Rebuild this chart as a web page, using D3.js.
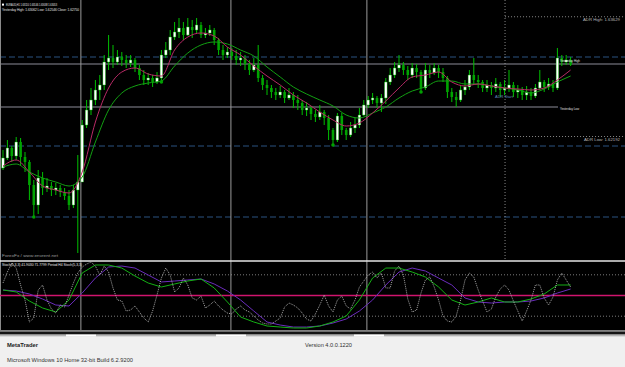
<!DOCTYPE html>
<html>
<head>
<meta charset="utf-8">
<script src="https://cdn.jsdelivr.net/npm/d3@7"></script>
<style>
  body { margin: 0; background: #f0f0f0; }
  svg { display: block; font-family: "Liberation Sans", Arial, sans-serif; }
</style>
</head>
<body>
<div id="chart"></div>
<script>
// EURAUD H1 candles (open of each bar = previous close)
const symbol = "EURAUD,H1";
const firstOpen = 1.61814;
const highs = [
  1.62030, 1.62150, 1.62078, 1.62186, 1.62174, 1.62006, 1.61910, 1.61670, 1.61790, 1.61766,
  1.61694, 1.61646, 1.61634, 1.61610, 1.61574, 1.61550, 1.61610, 1.61970, 1.62390, 1.62630,
  1.62774, 1.62870, 1.62930, 1.63170, 1.63410, 1.63290, 1.63230, 1.63206, 1.63170, 1.63170,
  1.63134, 1.63050, 1.62990, 1.62954, 1.62930, 1.62966, 1.63230, 1.63326, 1.63470, 1.63566,
  1.63614, 1.63566, 1.63614, 1.63590, 1.63614, 1.63566, 1.63494, 1.63530, 1.63494, 1.63374,
  1.63290, 1.63266, 1.63254, 1.63230, 1.63206, 1.63170, 1.63110, 1.63134, 1.63290, 1.62930,
  1.62870, 1.62810, 1.62774, 1.62798, 1.62750, 1.62774, 1.62726, 1.62690, 1.62630, 1.62606,
  1.62558, 1.62510, 1.62570, 1.62510, 1.62450, 1.62294, 1.62474, 1.62474, 1.62294, 1.62366,
  1.62414, 1.62534, 1.62630, 1.62678, 1.62714, 1.62678, 1.62702, 1.62894, 1.63014, 1.63086,
  1.63170, 1.63086, 1.63038, 1.63074, 1.63062, 1.62990, 1.63074, 1.63050, 1.63074, 1.63050,
  1.63014, 1.62918, 1.62774, 1.62726, 1.62810, 1.62870, 1.62990, 1.63134, 1.62930, 1.62870,
  1.62870, 1.62846, 1.62894, 1.62846, 1.62870, 1.62990, 1.62846, 1.62810, 1.62786, 1.62798,
  1.62774, 1.62822, 1.62990, 1.62870, 1.62894, 1.62870, 1.63254, 1.63170, 1.63170, 1.63146
];
const lows = [
  1.61790, 1.61910, 1.61886, 1.61910, 1.61850, 1.61766, 1.61430, 1.61226, 1.61262, 1.61490,
  1.61526, 1.61478, 1.61490, 1.61466, 1.61430, 1.61310, 1.61334, 1.60794, 1.61646, 1.62294,
  1.62450, 1.62570, 1.62630, 1.62750, 1.62990, 1.63014, 1.63050, 1.63038, 1.63014, 1.63026,
  1.62966, 1.62870, 1.62810, 1.62810, 1.62786, 1.62822, 1.62846, 1.63134, 1.63170, 1.63350,
  1.63374, 1.63350, 1.63398, 1.63374, 1.63434, 1.63374, 1.63374, 1.63398, 1.63290, 1.63170,
  1.63110, 1.63134, 1.63110, 1.63050, 1.63038, 1.62990, 1.62930, 1.62966, 1.62846, 1.62750,
  1.62690, 1.62654, 1.62630, 1.62654, 1.62594, 1.62630, 1.62534, 1.62510, 1.62450, 1.62438,
  1.62390, 1.62366, 1.62390, 1.62330, 1.62150, 1.62090, 1.62126, 1.62210, 1.62150, 1.62186,
  1.62234, 1.62294, 1.62438, 1.62534, 1.62582, 1.62534, 1.62486, 1.62582, 1.62810, 1.62894,
  1.62966, 1.62930, 1.62870, 1.62894, 1.62894, 1.62726, 1.62750, 1.62894, 1.62930, 1.62894,
  1.62846, 1.62654, 1.62606, 1.62546, 1.62606, 1.62690, 1.62750, 1.62810, 1.62774, 1.62726,
  1.62726, 1.62690, 1.62726, 1.62666, 1.62690, 1.62726, 1.62666, 1.62654, 1.62630, 1.62630,
  1.62630, 1.62654, 1.62750, 1.62726, 1.62750, 1.62726, 1.62750, 1.63038, 1.63050, 1.63038
];
const closes = [
  1.61934, 1.62054, 1.61958, 1.62126, 1.61946, 1.61886, 1.61610, 1.61370, 1.61694, 1.61574,
  1.61598, 1.61550, 1.61574, 1.61526, 1.61478, 1.61370, 1.61550, 1.61646, 1.62330, 1.62510,
  1.62630, 1.62750, 1.62810, 1.63086, 1.63134, 1.63086, 1.63146, 1.63110, 1.63074, 1.63110,
  1.63014, 1.62930, 1.62870, 1.62894, 1.62846, 1.62894, 1.63170, 1.63230, 1.63386, 1.63446,
  1.63494, 1.63410, 1.63506, 1.63470, 1.63530, 1.63410, 1.63434, 1.63470, 1.63350, 1.63230,
  1.63170, 1.63206, 1.63158, 1.63110, 1.63134, 1.63062, 1.62990, 1.63050, 1.62894, 1.62810,
  1.62774, 1.62726, 1.62690, 1.62726, 1.62654, 1.62690, 1.62630, 1.62594, 1.62510, 1.62534,
  1.62462, 1.62426, 1.62486, 1.62414, 1.62270, 1.62150, 1.62438, 1.62270, 1.62210, 1.62294,
  1.62330, 1.62450, 1.62570, 1.62630, 1.62654, 1.62594, 1.62654, 1.62846, 1.62930, 1.63014,
  1.63050, 1.62990, 1.62930, 1.63014, 1.62966, 1.62774, 1.62990, 1.62954, 1.63014, 1.62966,
  1.62894, 1.62726, 1.62666, 1.62630, 1.62750, 1.62786, 1.62930, 1.62870, 1.62846, 1.62774,
  1.62810, 1.62774, 1.62822, 1.62750, 1.62774, 1.62810, 1.62726, 1.62750, 1.62690, 1.62726,
  1.62678, 1.62774, 1.62846, 1.62786, 1.62822, 1.62774, 1.63134, 1.63086, 1.63110, 1.63053
];

// moving averages, read every 3rd bar
const maBars = [0, 3, 6, 9, 12, 15, 18, 21, 24, 27, 30, 33, 36, 39, 42, 45, 48, 51, 54, 57, 60, 63,
  66, 69, 72, 75, 78, 81, 84, 87, 90, 93, 96, 99, 102, 105, 108, 111, 114, 117, 120, 123, 126, 129];
const maFast = [
  1.61838, 1.61910, 1.61766, 1.61598, 1.61550, 1.61514, 1.61766, 1.62366, 1.62774, 1.62966, 1.63014,
  1.62942, 1.62918, 1.63230, 1.63386, 1.63434, 1.63398, 1.63266, 1.63170, 1.63038, 1.62918, 1.62810,
  1.62690, 1.62594, 1.62486, 1.62390, 1.62318, 1.62354, 1.62474, 1.62618, 1.62774, 1.62906, 1.62930,
  1.62966, 1.62846, 1.62798, 1.62822, 1.62798, 1.62774, 1.62762, 1.62750, 1.62774, 1.62870, 1.62990
];
const maSlow = [
  1.61826, 1.61862, 1.61766, 1.61694, 1.61646, 1.61598, 1.61706, 1.62126, 1.62510, 1.62714, 1.62798,
  1.62834, 1.62858, 1.63038, 1.63194, 1.63290, 1.63326, 1.63302, 1.63230, 1.63158, 1.63026, 1.62906,
  1.62786, 1.62702, 1.62630, 1.62558, 1.62450, 1.62414, 1.62474, 1.62546, 1.62654, 1.62738, 1.62786,
  1.62858, 1.62858, 1.62822, 1.62822, 1.62798, 1.62774, 1.62750, 1.62714, 1.62762, 1.62846, 1.62918
];
const fractalBars = [7, 36, 75, 95];

// levels
const pivotLevels = [1.63146, 1.62078, 1.61226];
const yesterdayHigh = 1.63062, yesterdayLow = 1.62546, yesterdayClose = 1.62750;
const adrHigh = 1.63629, adrLow = 1.62192;
const userLineBars = [17.7, 51.8, 82.7];
const daySeparatorBar = 114.1;

// stochastic (current timeframe), one value per bar
const stochMain = [
  68.1, 84.0, 97.1, 89.8, 65.2, 43.5, 11.6, 17.4, 58.0, 65.2,
  43.5, 30.4, 24.6, 36.2, 33.3, 50.7, 68.1, 82.6, 91.3, 95.6,
  98.5, 92.7, 79.7, 92.7, 84.0, 60.9, 43.5, 42.0, 27.5, 29.0,
  34.8, 26.1, 17.4, 11.6, 27.5, 50.7, 75.3, 89.8, 79.7, 55.1,
  60.9, 75.3, 65.2, 46.4, 43.5, 49.3, 31.9, 36.2, 42.0, 34.8,
  29.0, 24.6, 23.2, 30.4, 34.8, 29.0, 26.1, 20.3, 14.5, 10.1,
  8.7, 8.7, 13.0, 17.4, 33.3, 39.1, 36.2, 31.9, 24.6, 15.9,
  13.0, 23.2, 36.2, 50.7, 34.8, 26.1, 43.5, 49.3, 34.8, 30.4,
  43.5, 62.3, 71.0, 79.7, 84.0, 75.3, 82.6, 60.9, 60.9, 85.5,
  92.7, 79.7, 44.9, 26.1, 29.0, 53.6, 72.5, 76.8, 62.3, 43.5,
  20.3, 13.0, 11.6, 20.3, 43.5, 72.5, 82.6, 76.8, 58.0, 42.0,
  26.1, 30.4, 47.8, 59.4, 65.2, 58.0, 42.0, 27.5, 13.0, 27.5,
  43.5, 65.2, 65.2, 46.4, 36.2, 47.8, 72.5, 82.6, 72.5, 62.3
];
// H4 stochastic, read at maBars
const h4Main = [
  58.0, 55.1, 42.0, 31.9, 26.1, 43.5, 82.6, 94.2, 94.2, 89.8, 78.2, 68.1, 62.3, 66.7, 71.0,
  73.9, 60.9, 40.6, 18.8, 11.6, 5.8, 4.3, 2.9, 2.9, 5.8, 11.6, 20.3, 43.5, 75.3, 89.8,
  89.8, 84.0, 76.8, 62.3, 43.5, 36.2, 40.6, 46.4, 40.6, 40.6, 44.9, 52.2, 65.2, 65.2
];
const h4Signal = [
  58.0, 56.5, 52.2, 44.9, 36.2, 34.8, 53.6, 75.3, 91.3, 92.7, 89.8, 79.7, 69.6, 71.0, 72.5,
  73.9, 66.7, 56.5, 43.5, 27.5, 11.6, 7.2, 4.3, 4.3, 5.8, 10.1, 15.9, 27.5, 43.5, 65.2,
  84.0, 89.8, 85.5, 75.3, 65.2, 46.4, 40.6, 39.1, 40.6, 40.6, 42.0, 46.4, 53.6, 59.4
];
const stochLevels = [80, 20];

const width = 625, height = 367;
const mainBottom = 259, subTop = 261, subBottom = 330;

const svg = d3.select("#chart").append("svg")
  .attr("width", width)
  .attr("height", height);

svg.append("rect").attr("width", width).attr("height", 330).attr("fill", "#000");

const xScale = d3.scaleLinear().domain([0, closes.length - 1]).range([3, 570.6]);
const yScale = d3.scaleLinear().domain([1.60722, 1.6383]).range([mainBottom, 0]);
const sScale = d3.scaleLinear().domain([0, 100]).range([subBottom, subTop]);

const bars = closes.map((c, i) => ({
  i: i,
  o: i === 0 ? firstOpen : closes[i - 1],
  h: highs[i], l: lows[i], c: c
}));

function label(text, x, y, len, fill, size, weight) {
  svg.append("text")
    .attr("x", x).attr("y", y)
    .attr("font-size", size || 3.6)
    .attr("font-weight", weight || "normal")
    .attr("fill", fill)
    .attr("textLength", len)
    .attr("lengthAdjust", "spacingAndGlyphs")
    .text(text);
}

// horizontal levels
svg.selectAll(".pivot").data(pivotLevels).join("line")
  .attr("class", "pivot")
  .attr("x1", 0).attr("x2", width)
  .attr("y1", d => yScale(d)).attr("y2", d => yScale(d))
  .attr("stroke", "#2b5280").attr("stroke-width", 1.2)
  .attr("stroke-dasharray", "6,3");

svg.append("line")
  .attr("x1", 0).attr("x2", width)
  .attr("y1", yScale(yesterdayHigh)).attr("y2", yScale(yesterdayHigh))
  .attr("stroke", "#8c8c98").attr("stroke-width", 1);
svg.append("line")
  .attr("x1", 0).attr("x2", 558)
  .attr("y1", yScale(yesterdayLow)).attr("y2", yScale(yesterdayLow))
  .attr("stroke", "#8c8c98").attr("stroke-width", 1);

svg.selectAll(".adr").data([adrHigh, adrLow]).join("line")
  .attr("class", "adr")
  .attr("x1", xScale(daySeparatorBar)).attr("x2", width)
  .attr("y1", d => yScale(d)).attr("y2", d => yScale(d))
  .attr("stroke", "#a8a8a8").attr("stroke-width", 0.8)
  .attr("stroke-dasharray", "1,2");

// vertical lines
svg.selectAll(".vline").data(userLineBars).join("line")
  .attr("class", "vline")
  .attr("x1", d => xScale(d)).attr("x2", d => xScale(d))
  .attr("y1", 0).attr("y2", subBottom)
  .attr("stroke", "#9a9a9a").attr("stroke-width", 1);
svg.append("line")
  .attr("x1", xScale(daySeparatorBar)).attr("x2", xScale(daySeparatorBar))
  .attr("y1", 0).attr("y2", mainBottom)
  .attr("stroke", "#a8a8a8").attr("stroke-width", 0.8)
  .attr("stroke-dasharray", "1,2");
svg.append("line")
  .attr("x1", 0.5).attr("x2", 0.5).attr("y1", 0).attr("y2", subBottom)
  .attr("stroke", "#8a8a8a");

// candles
const bw = 2.6;
svg.selectAll(".wick").data(bars).join("line")
  .attr("class", "wick")
  .attr("x1", d => xScale(d.i)).attr("x2", d => xScale(d.i))
  .attr("y1", d => yScale(d.h)).attr("y2", d => yScale(d.l))
  .attr("stroke", "#00c000").attr("stroke-width", 1);

svg.selectAll(".body").data(bars).join("rect")
  .attr("class", "body")
  .attr("x", d => xScale(d.i) - bw / 2)
  .attr("width", bw)
  .attr("y", d => yScale(Math.max(d.o, d.c)))
  .attr("height", d => Math.max(1, Math.abs(yScale(d.o) - yScale(d.c))))
  .attr("fill", d => d.c >= d.o ? "#ffffff" : "#00a400")
  .attr("stroke", d => d.c >= d.o ? "#00c000" : "none")
  .attr("stroke-width", 0.4);

// moving averages
const maLine = d3.line()
  .x((d, k) => xScale(maBars[k]))
  .y(d => yScale(d))
  .curve(d3.curveMonotoneX);
svg.append("path").datum(maSlow).attr("d", maLine)
  .attr("fill", "none").attr("stroke", "#12a012").attr("stroke-width", 1);
svg.append("path").datum(maFast).attr("d", maLine)
  .attr("fill", "none").attr("stroke", "#b82a66").attr("stroke-width", 1);

svg.selectAll(".fractal").data(fractalBars).join("circle")
  .attr("class", "fractal")
  .attr("cx", d => xScale(d)).attr("cy", d => yScale(lows[d]))
  .attr("r", 1.8).attr("fill", "#00a000");

// main chart texts
const last = bars[bars.length - 1];
svg.append("rect").attr("x", 2).attr("y", 3.6).attr("width", 2).attr("height", 2).attr("fill", "#fff");
label(symbol + " " + [last.o, last.h, last.l, last.c].map(v => v.toFixed(5)).join(" "), 6, 6.3, 51, "#e8e8e8");
label("Yesterday High: " + yesterdayHigh.toFixed(5) + "  Low: " + yesterdayLow.toFixed(5) +
  "  Close: " + yesterdayClose.toFixed(5), 2, 11.3, 77, "#e8e8e8");
label("ADR High: " + adrHigh.toFixed(5), 583, yScale(adrHigh) + 4, 37, "#b8b8b8");
label("ADR Low: " + adrLow.toFixed(5), 584, yScale(adrLow) + 4.5, 36, "#b8b8b8");
label("Yesterday High", 560, yScale(yesterdayHigh) - 2.5, 20, "#e0e0e0");
label("Yesterday Low", 560, yScale(yesterdayLow) + 2.5, 19, "#e0e0e0");
label("ADR Start", 495, 97.5, 18, "#5f8cbc");
label("ForexFx / www.envrent.net", 2, 256.5, 56, "#9c9c9c");

// stochastic subwindow
svg.append("line")
  .attr("x1", 0).attr("x2", width).attr("y1", sScale(100)).attr("y2", sScale(100))
  .attr("stroke", "#e6e6e6").attr("stroke-width", 1.4);
svg.selectAll(".slevel").data(stochLevels).join("line")
  .attr("class", "slevel")
  .attr("x1", 0).attr("x2", width)
  .attr("y1", d => sScale(d)).attr("y2", d => sScale(d))
  .attr("stroke", "#9a9a9a").attr("stroke-width", 0.8)
  .attr("stroke-dasharray", "1,2");
svg.append("line")
  .attr("x1", 0).attr("x2", width).attr("y1", sScale(50)).attr("y2", sScale(50))
  .attr("stroke", "#d0146e").attr("stroke-width", 1.3);

const h4Line = d3.line()
  .x((d, k) => xScale(maBars[k]))
  .y(d => sScale(d));
svg.append("path").datum(h4Signal).attr("d", h4Line)
  .attr("fill", "none").attr("stroke", "#6a2cbc").attr("stroke-width", 1);
svg.append("path").datum(h4Main).attr("d", h4Line)
  .attr("fill", "none").attr("stroke", "#14b014").attr("stroke-width", 1);

svg.append("path").datum(stochMain)
  .attr("d", d3.line().x((d, i) => xScale(i)).y(d => sScale(d)))
  .attr("fill", "none").attr("stroke", "#b4b4b4").attr("stroke-width", 0.9)
  .attr("stroke-dasharray", "1,1");

label("Stoch(5,3,3) 41.9030 71.7799  Period H4 Stoch(5,3,3)", 2, 266, 80, "#ececec");

// window bottom and status bar
svg.append("rect").attr("x", 0).attr("y", 330).attr("width", width).attr("height", 1.6).attr("fill", "#808080");
svg.append("rect").attr("x", 0).attr("y", 331.6).attr("width", width).attr("height", 3).attr("fill", "#141414");
svg.append("rect").attr("x", 0).attr("y", 334.6).attr("width", width).attr("height", 2).attr("fill", "#b4b4b4");
svg.selectAll(".tab").data([[66, 30], [216, 30], [354, 30]]).join("rect")
  .attr("class", "tab")
  .attr("x", d => d[0]).attr("y", 334.6).attr("width", d => d[1]).attr("height", 2)
  .attr("fill", "#ffffff");
svg.append("rect").attr("x", 0).attr("y", 336.6).attr("width", width).attr("height", height - 336.6).attr("fill", "#f0f0f0");

label("MetaTrader", 7, 347.4, 31, "#202020", 6, "bold");
label("Version 4.0.0.1220", 305, 347.4, 47, "#303030", 6);
label("Microsoft Windows 10 Home 32-bit Build 6.2.9200", 7, 361.5, 126, "#303030", 6);
</script>
</body>
</html>
